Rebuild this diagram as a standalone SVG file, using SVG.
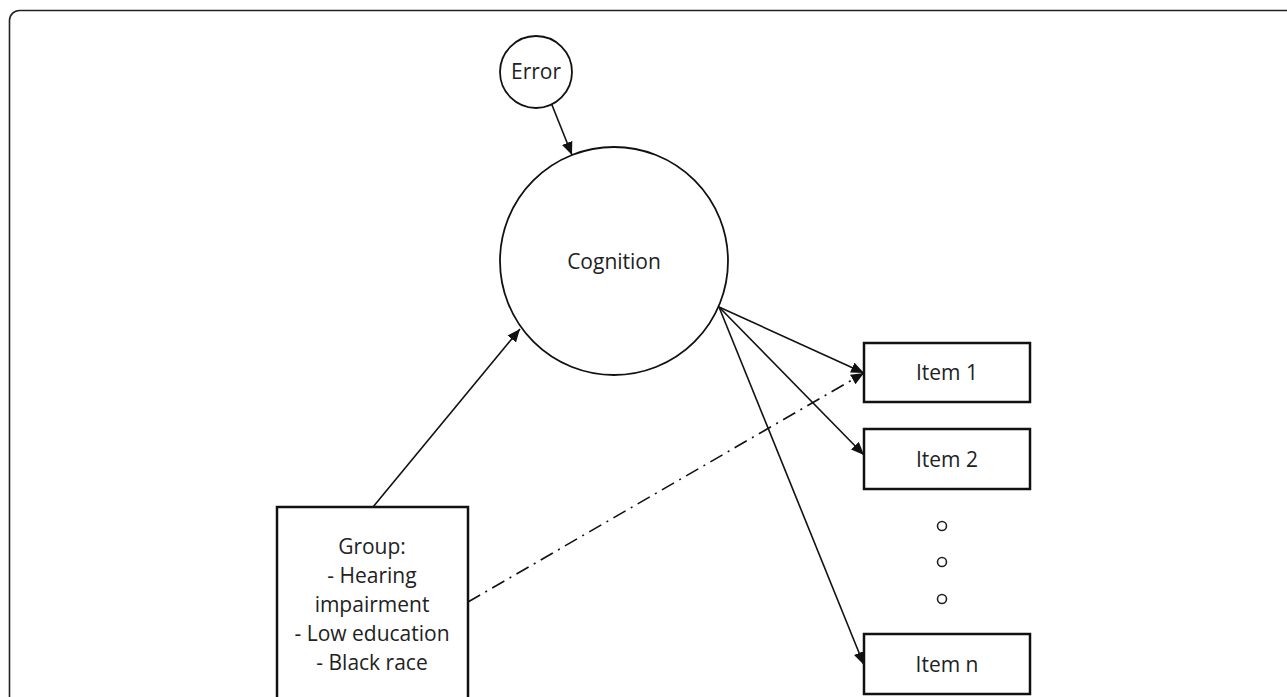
<svg xmlns="http://www.w3.org/2000/svg" width="1287" height="697" viewBox="0 0 1287 697">
<style>
.node{fill:#fff;stroke:#111;}
.box{stroke-width:2.5;}
.circ{stroke-width:1.8;}
.lbl{font-family:"Open Sans","Liberation Sans",sans-serif;font-size:21px;fill:#222;text-anchor:middle;}
.conn{stroke:#111;stroke-width:1.6;fill:none;}
.dash{stroke-dasharray:14 6 2 6;}
</style>
<defs>
<marker id="ah" viewBox="0 0 13 11" refX="13" refY="5.5" markerWidth="13" markerHeight="11" markerUnits="userSpaceOnUse" orient="auto">
<path d="M0,0 L13,5.5 L0,11 Z" fill="#111"/>
</marker>
</defs>
<rect width="1287" height="697" fill="#fff"/>
<path d="M9.5,697 V20.5 A10,10 0 0 1 19.5,10.5 H1287" fill="none" stroke="#222" stroke-width="1.6"/>
<g id="connectors">
<line class="conn" x1="550" y1="100" x2="572" y2="155" marker-end="url(#ah)"/>
<line class="conn" x1="373" y1="507" x2="520" y2="329" marker-end="url(#ah)"/>
<line class="conn" x1="719" y1="307" x2="864" y2="373" marker-end="url(#ah)"/>
<line class="conn" x1="719" y1="307" x2="864" y2="455" marker-end="url(#ah)"/>
<line class="conn" x1="719" y1="307" x2="864" y2="665" marker-end="url(#ah)"/>
<line class="conn dash" x1="468" y1="602" x2="864" y2="373" marker-end="url(#ah)"/>
</g>
<g id="error">
<circle class="node circ" cx="536" cy="72" r="36"/>
<text class="lbl" x="536" y="79">Error</text>
</g>
<g id="cognition">
<circle class="node circ" cx="614" cy="261" r="114"/>
<text class="lbl" x="614" y="269">Cognition</text>
</g>
<g id="group">
<rect class="node box" x="277" y="507" width="191" height="210"/>
<text class="lbl" x="372" y="554">Group:</text>
<text class="lbl" x="372" y="583">- Hearing</text>
<text class="lbl" x="372" y="612">impairment</text>
<text class="lbl" x="372" y="641">- Low education</text>
<text class="lbl" x="372" y="670">- Black race</text>
</g>
<g id="item1">
<rect class="node box" x="864" y="343" width="166" height="59"/>
<text class="lbl" x="947" y="380">Item 1</text>
</g>
<g id="item2">
<rect class="node box" x="864" y="429" width="166" height="60"/>
<text class="lbl" x="947" y="467">Item 2</text>
</g>
<g id="dots">
<circle cx="942" cy="526" r="4.5" fill="none" stroke="#222" stroke-width="1.6"/>
<circle cx="942" cy="562" r="4.5" fill="none" stroke="#222" stroke-width="1.6"/>
<circle cx="942" cy="599" r="4.5" fill="none" stroke="#222" stroke-width="1.6"/>
</g>
<g id="itemn">
<rect class="node box" x="864" y="634" width="166" height="60"/>
<text class="lbl" x="947" y="672">Item n</text>
</g>
</svg>
